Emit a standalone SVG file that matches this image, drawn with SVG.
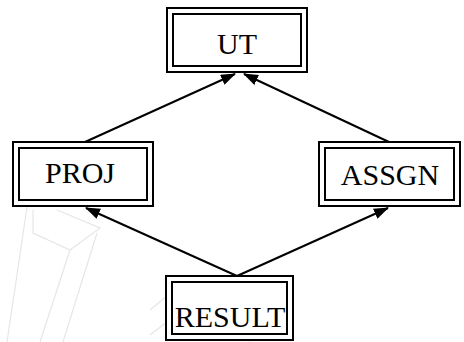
<svg xmlns="http://www.w3.org/2000/svg" width="464" height="342" viewBox="0 0 464 342">
<style>
.box{fill:#fff;stroke:#000;stroke-width:2}
.inner{fill:none;stroke:#000;stroke-width:2}
.lbl{font-family:"Liberation Serif","Times New Roman",serif;font-size:30px;fill:#000;text-anchor:middle}
.edge{stroke:#000;stroke-width:2;fill:none;marker-end:url(#ah)}
.wm{stroke:#e6e6e6;stroke-width:1.2;fill:none}
</style>
<defs>
<marker id="ah" viewBox="0 0 15 11" refX="14" refY="5.5" markerWidth="15" markerHeight="11" markerUnits="userSpaceOnUse" orient="auto">
<path d="M0,0 L15,5.5 L0,11 z" fill="#000"/>
</marker>
</defs>
<rect width="464" height="342" fill="#fff"/>
<g id="watermark">
<path class="wm" d="M27,207 L7,342 M33,210 L33,233 L70,250 L100,228 L57,210 M97,233 L63,342 M70,250 L40,342 M150,310 L190,277 M150,335 L172,318 M232,300 L250,342"/>
</g>
<g id="connectors">
<line class="edge" x1="237" y1="276" x2="86" y2="208"/>
<line class="edge" x1="237" y1="276" x2="388" y2="208"/>
<line class="edge" x1="85" y1="142" x2="235" y2="74"/>
<line class="edge" x1="389" y1="142" x2="244" y2="74"/>
</g>
<g id="UT">
<rect class="box" x="167" y="8" width="140" height="64"/>
<rect class="inner" x="173" y="14" width="128" height="52"/>
<text class="lbl" x="237" y="54">UT</text>
</g>
<g id="PROJ">
<rect class="box" x="13" y="142" width="140" height="64"/>
<rect class="inner" x="19" y="148" width="128" height="52"/>
<text class="lbl" x="80" y="183">PROJ</text>
</g>
<g id="ASSGN">
<rect class="box" x="319" y="142" width="141" height="64"/>
<rect class="inner" x="325" y="148" width="129" height="52"/>
<text class="lbl" x="390" y="185">ASSGN</text>
</g>
<g id="RESULT">
<rect class="box" x="166" y="276" width="127" height="64"/>
<rect class="inner" x="172" y="282" width="115" height="52"/>
<text class="lbl" x="230" y="327">RESULT</text>
</g>
</svg>
